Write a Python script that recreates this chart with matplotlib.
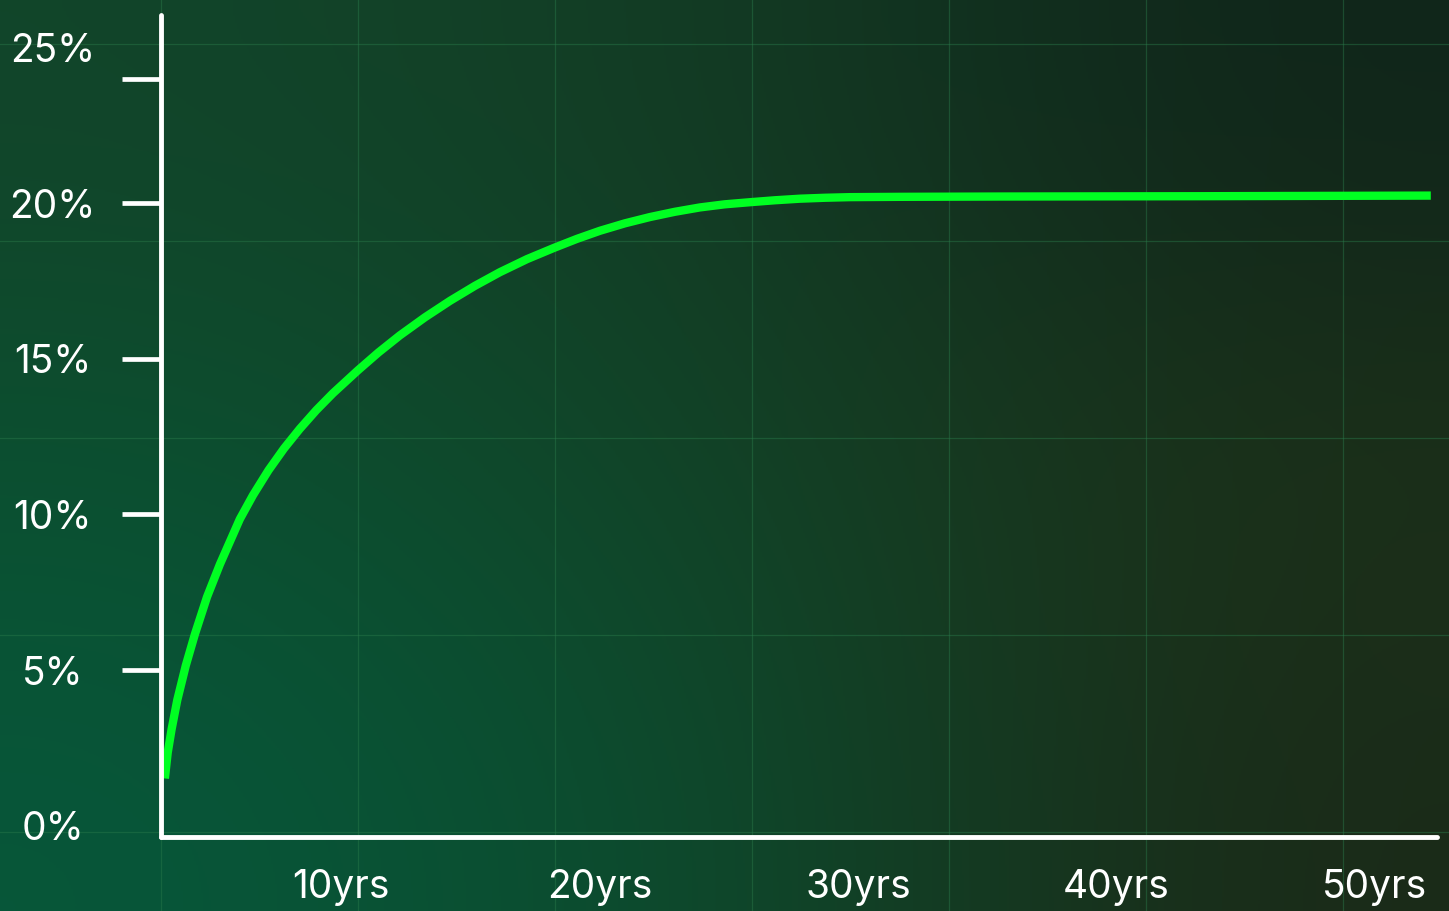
import numpy as np
import matplotlib
matplotlib.use("Agg")
import matplotlib.pyplot as plt

# curve (years, percent)
years = [3.19, 3.30, 3.45, 3.67, 4.00, 4.35, 4.82, 5.32, 6.09, 6.60, 7.20,
         7.80, 8.41, 9.05, 9.69, 10.66, 11.45, 12.28, 13.25, 14.22, 15.18,
         16.15, 17.20, 18.24, 19.13, 20.02, 20.99, 21.95, 22.92, 23.89, 24.85,
         25.86, 26.79, 27.75, 28.72, 29.69, 31.62, 35.49, 43.23, 52.16]
percent = [1.52, 2.35, 3.10, 4.04, 5.15, 6.15, 7.35, 8.40, 9.85, 10.62, 11.42,
           12.12, 12.75, 13.35, 13.89, 14.63, 15.20, 15.75, 16.33, 16.86, 17.34,
           17.78, 18.20, 18.56, 18.85, 19.11, 19.35, 19.55, 19.72, 19.86, 19.96,
           20.03, 20.09, 20.14, 20.17, 20.19, 20.20, 20.21, 20.22, 20.24]

y_labels = ["0%", "5%", "10%", "15%", "20%", "25%"]
y_label_values = [0, 5, 10, 15, 20, 25]
y_tick_marks = [5, 10, 15, 20, 24]
x_labels = ["10yrs", "20yrs", "30yrs", "40yrs", "50yrs"]
x_label_values = [10, 20, 30, 40, 50]

W, H = 1449, 911
fig = plt.figure(figsize=(W / 100, H / 100), dpi=100)

# background gradient + square grid
bg = fig.add_axes([0, 0, 1, 1], zorder=0)
corners = np.array([
    [[0x12, 0x45, 0x2a], [0x13, 0x3c, 0x24], [0x10, 0x25, 0x1a]],
    [[0x0b, 0x50, 0x30], [0x12, 0x43, 0x27], [0x1d, 0x31, 0x19]],
    [[0x07, 0x57, 0x3a], [0x0d, 0x4a, 0x2c], [0x1b, 0x2a, 0x18]],
]) / 255.0
bg.imshow(corners, extent=[0, W, H, 0], interpolation="bicubic", aspect="auto")
for gx in np.arange(-36, W, 197):
    bg.axvline(gx, color="#2a7a4a", lw=0.9, alpha=0.45)
for gy in np.arange(44, H, 197):
    bg.axhline(gy, color="#2a7a4a", lw=0.9, alpha=0.45)
bg.set_xlim(0, W)
bg.set_ylim(H, 0)
bg.axis("off")

ax = fig.add_axes([161 / W, 74 / H, 1276 / W, 822 / H], zorder=1)
ax.patch.set_alpha(0)
ax.plot(years, percent, color="#00ff22", lw=6, solid_capstyle="butt",
        solid_joinstyle="round")

ax.set_xlim(3.04, 52.4)
ax.set_ylim(-0.36, 26.04)

for side in ["top", "right"]:
    ax.spines[side].set_visible(False)
for side in ["left", "bottom"]:
    ax.spines[side].set_color("white")
    ax.spines[side].set_linewidth(3.5)
    ax.spines[side].set_capstyle("round")

font = "Inter"
ax.yaxis.remove_overlapping_locs = False
ax.set_yticks(y_label_values)
ax.set_yticklabels(y_labels, fontsize=28, color="white", family=font, ha="center")
ax.set_yticks(y_tick_marks, minor=True)
ax.tick_params(axis="y", which="major", length=0, pad=78)
ax.tick_params(axis="y", which="minor", length=28, width=3.4, color="white")

ax.set_xticks(x_label_values)
ax.set_xticklabels(x_labels, fontsize=28, color="white", family=font)
ax.tick_params(axis="x", which="major", length=0, pad=23)

fig.savefig("out.png", dpi=100)
